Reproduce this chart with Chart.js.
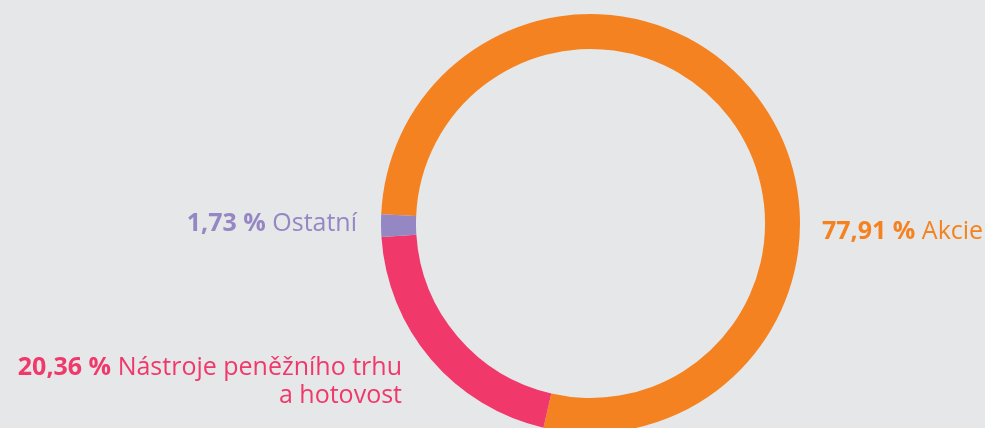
<!DOCTYPE html>
<html>
<head>
<meta charset="utf-8">
<script src="https://cdn.jsdelivr.net/npm/chart.js@4"></script>
<style>
  html, body { margin: 0; padding: 0; background: #e6e7e8; overflow: hidden; }
  #wrap { width: 985px; height: 428px; overflow: hidden; }
</style>
</head>
<body>
<div id="wrap"><canvas id="ringChart" width="985" height="460"></canvas></div>
<script>
// ----------------------- DATA -----------------------
const categories = ['Akcie', 'Nástroje peněžního trhu', 'Ostatní'];
const categoryLine2 = ['', 'a hotovost', ''];
const shares = [77.91, 20.36, 1.73];
const sliceColors = ['#f58220', '#f0386b', '#9587c3'];

const fmt = v => v.toFixed(2).replace('.', ',') + ' %';

// label font
const FONT = '"Open Sans", sans-serif';
const SIZE = 25;

// draws "bold value + normal name" next to the ring
const ringLabels = {
    id: 'ringLabels',
    afterDraw(chart) {
        const ctx = chart.ctx;
        const arc = chart.getDatasetMeta(0).data[0];
        const cx = arc.x, cy = arc.y, r = arc.outerRadius;

        function pair(i, x, y, align, name) {
            const bold = '700 ' + SIZE + 'px ' + FONT;
            const normal = '400 ' + SIZE + 'px ' + FONT;
            const val = fmt(shares[i]) + ' ';
            ctx.font = bold;
            const wv = ctx.measureText(val).width;
            ctx.font = normal;
            const wn = ctx.measureText(name).width;
            let x0 = align === 'right' ? x - wv - wn : x;
            ctx.fillStyle = sliceColors[i];
            ctx.textAlign = 'left';
            ctx.textBaseline = 'alphabetic';
            ctx.font = bold;
            ctx.fillText(val, x0, y);
            ctx.font = normal;
            ctx.fillText(name, x0 + wv, y);
        }

        ctx.save();
        // Akcie - right of the ring
        pair(0, cx + r + 22, cy + 15, 'left', categories[0]);
        // Ostatní - left of the ring
        pair(2, cx - r - 24, cy + 7.5, 'right', categories[2]);
        // Nástroje - lower left, two lines
        pair(1, cx - r + 21, cy + 151, 'right', categories[1]);
        ctx.font = '400 ' + SIZE + 'px ' + FONT;
        ctx.textAlign = 'right';
        ctx.fillStyle = sliceColors[1];
        ctx.fillText(categoryLine2[1], cx - r + 21, cy + 179);
        ctx.restore();
    }
};

// ----------------------- DOUGHNUT -----------------------
new Chart(document.getElementById('ringChart').getContext('2d'), {
    type: 'doughnut',
    data: {
        labels: categories,
        datasets: [{
            data: shares,
            backgroundColor: sliceColors,
            borderWidth: 0
        }]
    },
    options: {
        responsive: false,
        animation: false,
        rotation: 272.5,
        cutout: '83.3%',
        layout: {
            padding: { left: 381, right: 185, top: 14, bottom: 27 }
        },
        plugins: {
            legend: { display: false },
            tooltip: { enabled: false }
        }
    },
    plugins: [ringLabels]
});
</script>
</body>
</html>
